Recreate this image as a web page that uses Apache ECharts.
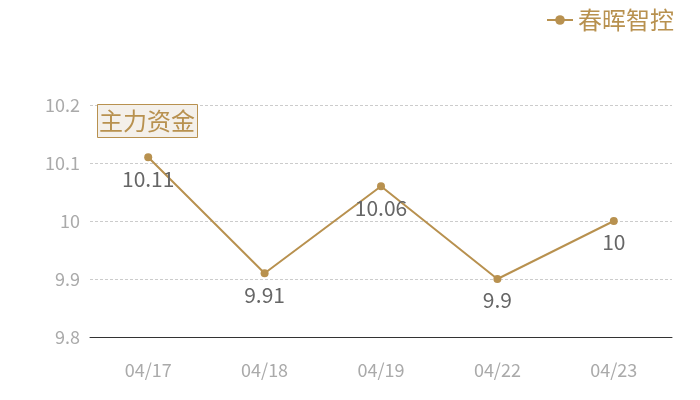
<!DOCTYPE html>
<html><head>
<meta charset="utf-8">
<title>主力资金</title>
<script src="https://cdn.jsdelivr.net/npm/echarts@6/dist/echarts.min.js"></script>
<style>
html,body{margin:0;padding:0;background:#fff;}
#main{width:700px;height:400px;}
</style>
</head>
<body>
<div id="main"></div>
<script type="text/javascript">
// 数据
var dates = ['04/17', '04/18', '04/19', '04/22', '04/23'];
var values = [10.11, 9.91, 10.06, 9.9, 10];
var seriesName = '春晖智控';

var gold = '#b8914f';
var font = '"Noto Sans CJK SC", "Noto Sans", sans-serif';

var myChart = echarts.init(document.getElementById('main'));

var option = {
    textStyle: { fontFamily: font },
    title: {
        text: '主力资金',
        left: 97,
        top: 104,
        padding: [5, 3, 5, 2],
        backgroundColor: '#f4f0ea',
        borderColor: gold,
        borderWidth: 1,
        textStyle: { color: gold, fontSize: 24, fontWeight: 'normal', fontFamily: font }
    },
    legend: {
        data: [seriesName],
        right: 21,
        top: 3,
        itemWidth: 26,
        itemHeight: 12,
        itemGap: 6,
        textStyle: { color: gold, fontSize: 24, fontFamily: font }
    },
    grid: { left: 90, right: 28, top: 105, bottom: 63 },
    xAxis: {
        type: 'category',
        data: dates,
        axisLine: { lineStyle: { color: '#333' } },
        axisTick: { show: false },
        axisLabel: { color: '#aaa', fontSize: 18, margin: 24 }
    },
    yAxis: {
        type: 'value',
        min: 9.8,
        max: 10.2,
        interval: 0.1,
        axisLine: { show: false },
        axisTick: { show: false },
        axisLabel: { color: '#aaa', fontSize: 18, margin: 10 },
        splitLine: { lineStyle: { color: '#ccc', type: [3, 2] } }
    },
    series: [{
        name: seriesName,
        type: 'line',
        data: values,
        symbol: 'circle',
        symbolSize: 8,
        itemStyle: { color: gold },
        lineStyle: { color: gold, width: 2 },
        label: { show: true, position: 'bottom', distance: 7, color: '#666', fontSize: 21 }
    }]
};
myChart.setOption(option);
</script>
</body>
</html>
